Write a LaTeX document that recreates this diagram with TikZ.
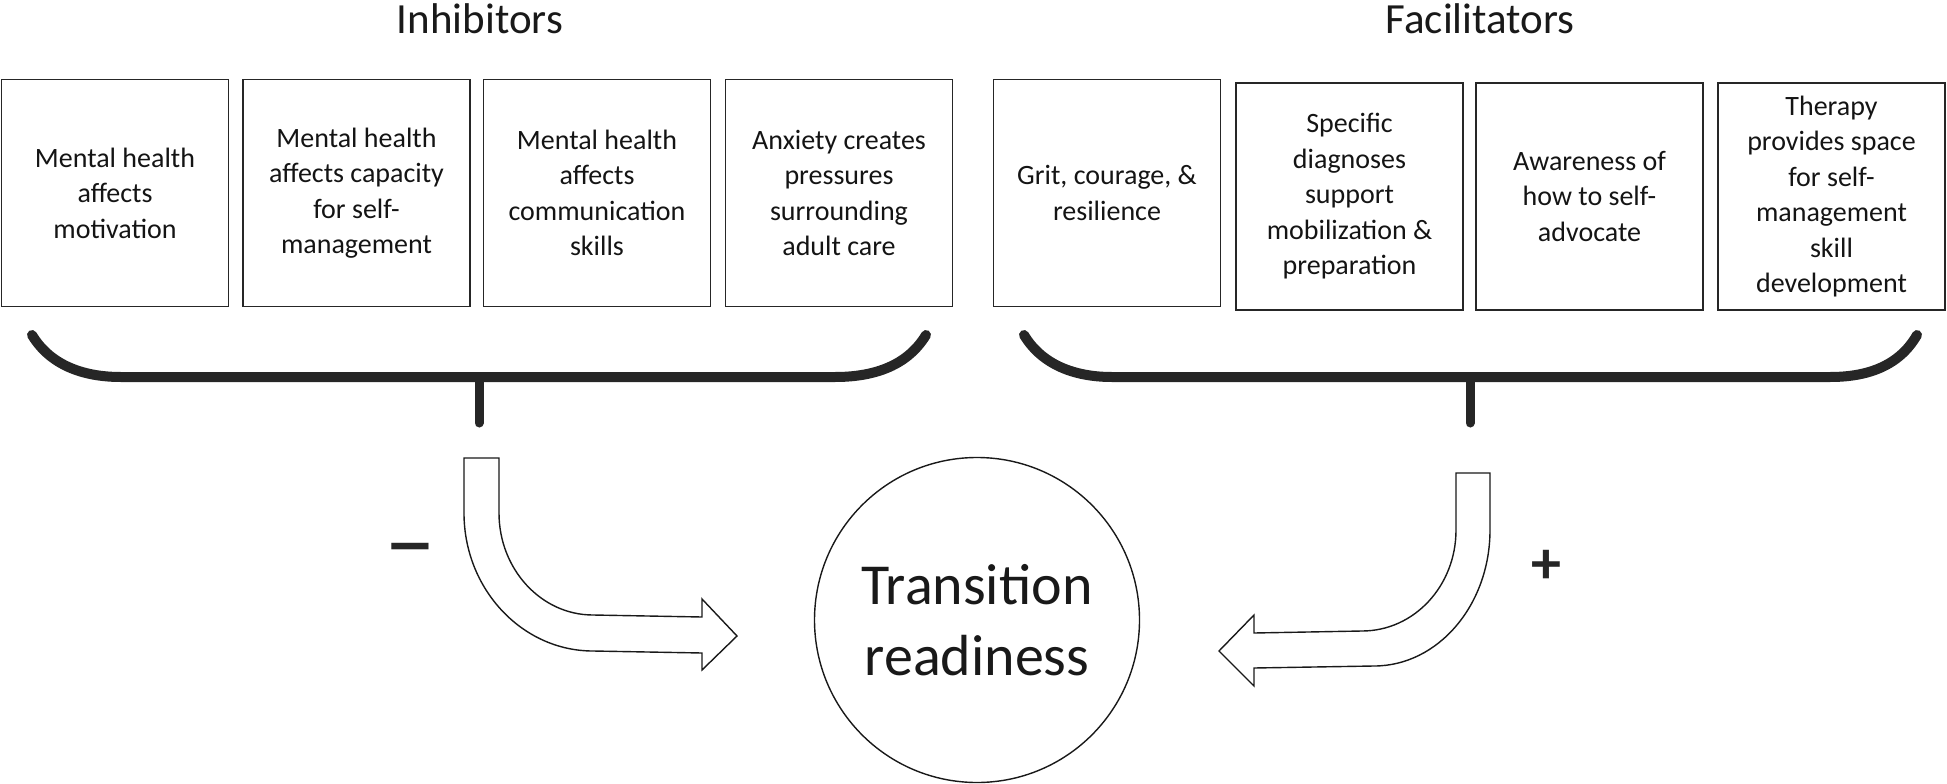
\documentclass[tikz,border=0pt]{standalone}
\usepackage{fontspec}
\setmainfont{Carlito}
\begin{document}
\begin{tikzpicture}[x=1pt,y=-1pt,
  box/.style={draw=black!85, line width=1.7pt, minimum width=227, minimum height=227, inner sep=0pt, align=center, font=\fontsize{28}{35.5}\selectfont, text=black!92},
  title/.style={font=\fontsize{43}{50}\selectfont, text=black!90},
  bracepath/.style={line width=10pt, line cap=round, draw=black!85},
  stem/.style={line width=9pt, line cap=round, draw=black!85},
  blockarrow/.style={draw=black!90, line width=1.4pt, fill=white, line join=miter},
  sign/.style={font=\fontsize{60}{60}\selectfont\bfseries, text=black!85}]
\useasboundingbox (0,0) rectangle (1947,784);
% titles
\node[title] (tin) at (480,19) {Inhibitors};
\node[title] (tfa) at (1480,19) {Facilitators};
% inhibitor boxes
\node[box] (b1) at (115,193) {Mental health\\affects\\motivation};
\node[box] (b2) at (356.5,193) {Mental health\\affects capacity\\for self-\\management};
\node[box] (b3) at (597,193) {Mental health\\affects\\communication\\skills};
\node[box] (b4) at (839,193) {Anxiety creates\\pressures\\surrounding\\adult care};
% facilitator boxes
\node[box] (b5) at (1107,193) {Grit, courage, \&\\resilience};
\node[box] (b6) at (1349.5,196.5) {Specific\\diagnoses\\support\\mobilization \&\\preparation};
\node[box] (b7) at (1589.5,196.5) {Awareness of\\how to self-\\advocate};
\node[box] (b8) at (1831.5,196.5) {Therapy\\provides space\\for self-\\management\\skill\\development};
% braces
\draw[bracepath] (32,335) .. controls (52,368) and (88,377) .. (121,377) -- (835,377) .. controls (870,377) and (906,368) .. (926,335);
\draw[stem] (479,377) -- (479,423);
\draw[bracepath] (1024,335) .. controls (1044,368) and (1080,377) .. (1112,377) -- (1830,377) .. controls (1864,377) and (1898,368) .. (1917,335);
\draw[stem] (1470,377) -- (1470,423);
% central circle
\node[draw=black!90, line width=1.4pt, circle, minimum size=325, inner sep=0pt, align=center, font=\fontsize{58}{71}\selectfont, text=black!90] (tr) at (977,620) {Transition\\readiness};
% block arrows
\draw[blockarrow] (464,458) -- (464,513) .. controls (464,589) and (522,651) .. (593,651) -- (702,653) -- (702,670) -- (737,636) -- (702,599) -- (702,617) -- (593,615) .. controls (541,615) and (499,569) .. (499,513) -- (499,458) -- cycle;
\draw[blockarrow] (1456,473) -- (1456,530) .. controls (1456,586) and (1414,631) .. (1362,631) -- (1254,633) -- (1254,615) -- (1219,651) -- (1254,686) -- (1254,668) -- (1374,666) .. controls (1438,666) and (1490,605) .. (1490,530) -- (1490,473) -- cycle;
% signs
\node[sign, font=\fontsize{104}{104}\selectfont] (minus) at (410,559) {–};
\node[sign] (plus) at (1546,567) {+};
\end{tikzpicture}
\end{document}
